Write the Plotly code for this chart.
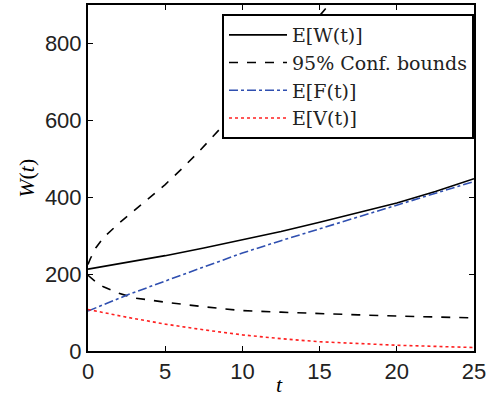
import plotly.graph_objects as go

# ---- data ----
t_main = [0, 2.5, 5, 7.5, 10, 12.5, 15, 17.5, 20, 22.5, 25]
EW = [213, 230, 248, 268, 289, 311, 335, 359, 385, 415, 448]
EF = [104, 145, 182, 219, 255, 287, 318, 349, 380, 411, 441]
EV = [108, 88, 70, 55, 42, 32, 24, 19, 15, 12, 9]

t_low = [0, 0.5, 1, 2, 3, 4, 5, 7.5, 10, 12.5, 15, 17.5, 20, 22.5, 25]
low = [197, 180, 167, 150, 138, 132, 127, 115, 105, 101, 97, 94, 91, 88, 86]

t_up = [0, 0.15, 0.5, 1, 2, 3, 4, 5, 6, 7, 8, 9, 10, 11, 12, 13, 14, 15, 16]
up = [225, 240, 268, 295, 332, 365, 399, 433, 471, 511, 554, 597, 641, 686, 731, 777, 824, 872, 920]

x_ticks = [0, 5, 10, 15, 20, 25]
y_ticks = [0, 200, 400, 600, 800]

fig = go.Figure()
fig.add_trace(go.Scatter(x=t_main, y=EW, mode="lines", name="E[W(t)]",
                         line=dict(color="black", width=1.6)))
fig.add_trace(go.Scatter(x=t_up + [None] + t_low, y=up + [None] + low, mode="lines",
                         name="95% Conf. bounds", connectgaps=False,
                         line=dict(color="black", width=1.6, dash="dash")))
fig.add_trace(go.Scatter(x=t_main, y=EF, mode="lines", name="E[F(t)]",
                         line=dict(color="#2f4fb0", width=1.6, dash="dashdot")))
fig.add_trace(go.Scatter(x=t_main, y=EV, mode="lines", name="E[V(t)]",
                         line=dict(color="#ff2020", width=1.6, dash="dot")))

axis_common = dict(showgrid=False, zeroline=False, showline=True, linecolor="black",
                   linewidth=2, mirror="ticks", ticks="inside", ticklen=5,
                   tickcolor="black", tickwidth=1, automargin=False,
                   tickfont=dict(family="Liberation Sans, Arial", size=22, color="#222"))

title_font = dict(family="Liberation Serif", size=22, color="black")

fig.update_layout(
    width=487, height=398,
    margin=dict(l=88, r=13, t=5, b=47),
    paper_bgcolor="white", plot_bgcolor="white",
    xaxis=dict(range=[0, 25], tickvals=x_ticks, **axis_common),
    yaxis=dict(range=[0, 900], tickvals=y_ticks, **axis_common),
    legend=dict(x=1.0, xanchor="right", y=0.974, yanchor="top",
                bgcolor="white", bordercolor="black", borderwidth=2,
                font=dict(family="DejaVu Serif", size=19, color="#222"),
                itemwidth=58, tracegroupgap=0),
    showlegend=True,
    annotations=[
        dict(text="<i>t</i>", xref="paper", yref="paper", x=0.497, y=-0.1355,
             xanchor="center", yanchor="bottom", showarrow=False, font=title_font, borderpad=0),
        dict(text="<i>W</i>(<i>t</i>)", xref="paper", yref="paper", x=-0.161, y=0.5,
             xanchor="center", yanchor="middle", textangle=-90, showarrow=False, font=title_font),
    ],
)

fig.write_html("out.html")
